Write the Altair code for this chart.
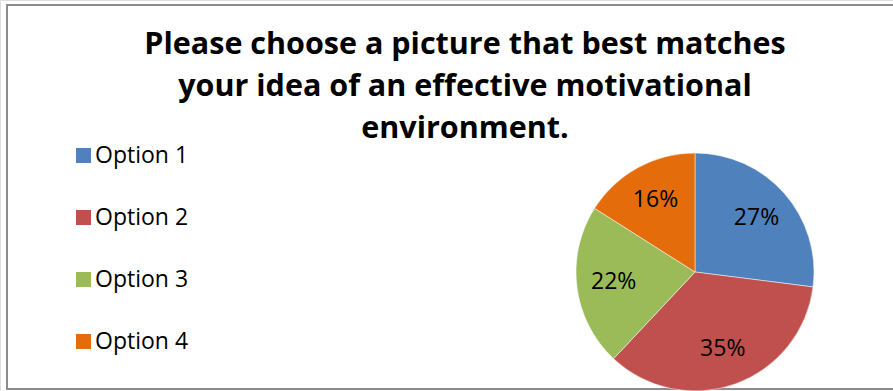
import altair as alt
import pandas as pd

# ---- data ----
categories = ["Option 1", "Option 2", "Option 3", "Option 4"]
values = [27, 35, 22, 16]
labels = ["27%", "35%", "22%", "16%"]
colors = ["#4F81BD", "#C0504D", "#9BBB59", "#E46C0A"]
title_lines = [
    "Please choose a picture that best matches",
    "your idea of an effective motivational",
    "environment.",
]

df = pd.DataFrame({
    "category": categories,
    "value": values,
    "label": labels,
    "order": list(range(len(categories))),
})

W, H = 893, 391
CX, CY, R = 695, 272, 119
FONT = "Open Sans"

color_scale = alt.Scale(domain=categories, range=colors)

base = alt.Chart(df)

pie = base.mark_arc(outerRadius=R, stroke="white", strokeWidth=0.5).encode(
    theta=alt.Theta("value:Q", stack=True),
    color=alt.Color(
        "category:N",
        scale=color_scale,
        legend=alt.Legend(
            title=None,
            orient="none",
            legendX=72,
            legendY=144,
            symbolType="square",
            symbolSize=225,
            symbolStrokeWidth=0,
            labelFontSize=23,
            labelFont=FONT,
            labelColor="black",
            labelOffset=0,
            rowPadding=38,
        ),
    ),
    order=alt.Order("order:Q"),
    x=alt.value(CX),
    y=alt.value(CY),
)

pie_text = base.mark_text(radius=82, fontSize=23, font=FONT, color="black").encode(
    theta=alt.Theta("value:Q", stack=True),
    text="label:N",
    order=alt.Order("order:Q"),
    x=alt.value(CX),
    y=alt.value(CY),
)

tdf = pd.DataFrame({"line": title_lines, "i": [0, 1, 2]})
title = alt.Chart(tdf).mark_text(
    fontSize=30.5, font=FONT, fontWeight="bold", color="black", align="center", baseline="alphabetic"
).encode(
    text="line:N",
    x=alt.value(465),
    y=alt.Y("i:Q", scale=alt.Scale(domain=[0, 2], range=[54, 138]), axis=None),
)

frame = alt.Chart(pd.DataFrame({"a": [0]})).mark_rect(
    fill=None, stroke="#8c8c8c", strokeWidth=2
).encode(
    x=alt.value(7), x2=alt.value(W + 10), y=alt.value(5), y2=alt.value(389)
)

chart = alt.layer(frame, pie, pie_text, title).properties(
    width=W, height=H, padding=0, autosize=alt.AutoSizeParams(type="none")
).configure_view(stroke=None).configure(background="white")

chart.save("out.html", embed_options={"renderer": "svg", "actions": False})
